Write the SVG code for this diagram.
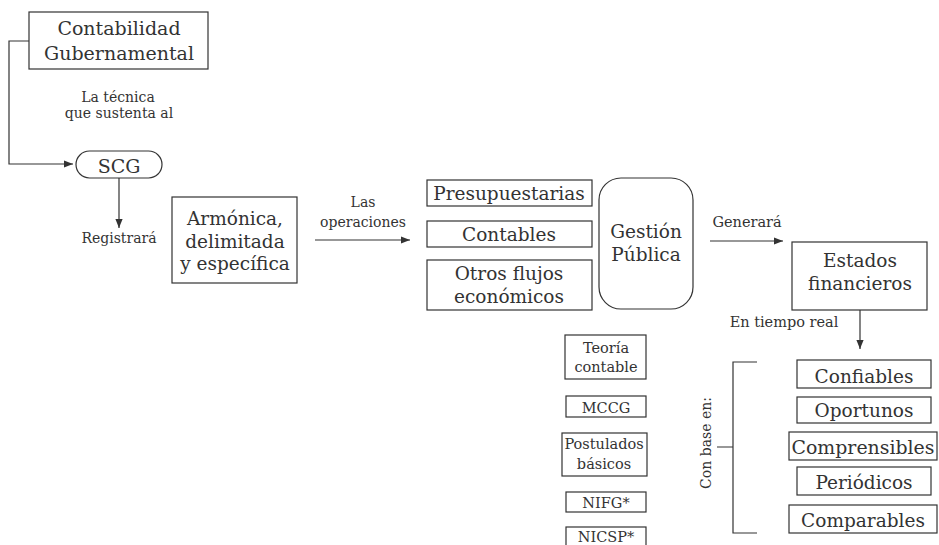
<svg xmlns="http://www.w3.org/2000/svg" width="939" height="545" viewBox="0 0 939 545">
<defs>
<style>
.b{fill:#fff;stroke:#333;stroke-width:1.2}
.l{fill:none;stroke:#333;stroke-width:1.2}
text{font-family:"DejaVu Serif","Liberation Serif",serif;fill:#333;text-anchor:middle}
.t19{font-size:19px}
.t18{font-size:18.5px}
.t17{font-size:18.5px}
.t15{font-size:14.5px}
.s{font-size:14px}
</style>
<marker id="a" viewBox="0 0 10 10" refX="10" refY="5" markerWidth="9" markerHeight="9" markerUnits="userSpaceOnUse" orient="auto"><path d="M0,1 L10,5 L0,9 Z" fill="#333"/></marker>
</defs>
<g id="connectors">
<path class="l" d="M29,41 H9 V164 H73" marker-end="url(#a)"/>
<path class="l" d="M119,178 V228" marker-end="url(#a)"/>
<path class="l" d="M315,240 H410" marker-end="url(#a)"/>
<path class="l" d="M710,241 H783" marker-end="url(#a)"/>
<path class="l" d="M860,310 V349" marker-end="url(#a)"/>
<path class="l" d="M757,362 H733 V533 H757 M717,447 H733"/>
</g>
<g id="labels">
<text class="s" x="118" y="102">La técnica</text>
<text class="s" x="119" y="118">que sustenta al</text>
<text class="s" x="119" y="243">Registrará</text>
<text class="s" x="363" y="207">Las</text>
<text class="s" x="363" y="227">operaciones</text>
<text class="t15" x="747" y="227">Generará</text>
<text class="t15" x="784" y="327">En tiempo real</text>
<text class="s" transform="translate(711,443) rotate(-90)">Con base en:</text>
</g>
<g id="contabilidad"><rect class="b" x="29" y="12" width="179" height="57"/><text class="t19" x="119" y="35">Contabilidad</text><text class="t19" x="119" y="60">Gubernamental</text></g>
<g id="scg"><rect class="b" x="76" y="151" width="86" height="27" rx="13.5"/><text class="t19" x="119" y="173">SCG</text></g>
<g id="armonica"><rect class="b" x="172" y="197" width="125" height="86"/><text class="t18" x="235" y="225">Armónica,</text><text class="t18" x="235" y="248">delimitada</text><text class="t18" x="235" y="270">y específica</text></g>
<g id="presupuestarias"><rect class="b" x="427" y="180" width="165" height="26"/><text class="t18" x="509" y="200">Presupuestarias</text></g>
<g id="contables"><rect class="b" x="427" y="221" width="165" height="26"/><text class="t18" x="509" y="241">Contables</text></g>
<g id="otros"><rect class="b" x="427" y="260" width="165" height="50"/><text class="t18" x="509" y="280">Otros flujos</text><text class="t18" x="509" y="303">económicos</text></g>
<g id="gestion"><rect class="b" x="599" y="178" width="94" height="131" rx="22"/><text class="t18" x="646" y="238">Gestión</text><text class="t18" x="646" y="261">Pública</text></g>
<g id="estados"><rect class="b" x="792" y="242" width="135" height="68"/><text class="t18" x="860" y="267">Estados</text><text class="t18" x="860" y="290">financieros</text></g>
<g id="teoria"><rect class="b" x="565" y="335" width="81" height="44"/><text class="t15" x="606" y="353">Teoría</text><text class="t15" x="606" y="372">contable</text></g>
<g id="mccg"><rect class="b" x="566" y="396" width="80" height="21"/><text class="t15" x="606" y="413">MCCG</text></g>
<g id="postulados"><rect class="b" x="562" y="433" width="85" height="43"/><text class="t15" x="604" y="449">Postulados</text><text class="t15" x="604" y="469">básicos</text></g>
<g id="nifg"><rect class="b" x="566" y="492" width="80" height="20"/><text class="t15" x="606" y="508">NIFG*</text></g>
<g id="nicsp"><rect class="b" x="566" y="527" width="80" height="24"/><text class="t15" x="606" y="542">NICSP*</text></g>
<g id="confiables"><rect class="b" x="797" y="360" width="134" height="28"/><text class="t17" x="864" y="383">Confiables</text></g>
<g id="oportunos"><rect class="b" x="797" y="397" width="134" height="26"/><text class="t17" x="864" y="417">Oportunos</text></g>
<g id="comprensibles"><rect class="b" x="789" y="432" width="148" height="28"/><text class="t17" x="863" y="454" textLength="143" lengthAdjust="spacingAndGlyphs">Comprensibles</text></g>
<g id="periodicos"><rect class="b" x="797" y="467" width="134" height="28"/><text class="t17" x="864" y="489">Periódicos</text></g>
<g id="comparables"><rect class="b" x="789" y="505" width="148" height="28"/><text class="t17" x="863" y="527">Comparables</text></g>
</svg>
